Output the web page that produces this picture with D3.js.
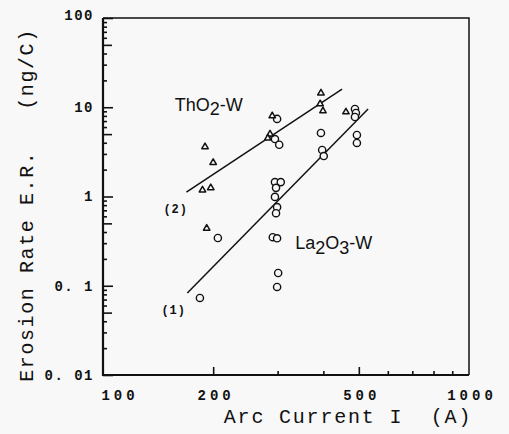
<!DOCTYPE html>
<html>
<head>
<meta charset="utf-8">
<script src="https://cdn.jsdelivr.net/npm/d3@7"></script>
<style>
  body { margin: 0; background: #f8f8f8; }
  svg { display: block; }
  .mono { font-family: 'Liberation Mono', 'DejaVu Sans Mono', monospace; fill: #111; }
  .sans { font-family: 'Liberation Sans', Arial, sans-serif; fill: #111; }
</style>
</head>
<body>
<div id="chart"></div>
<script>
// ThO2-W (triangles): arc current (A) and erosion rate (ng/C)
const triCurrent = [190, 200, 187, 197, 192, 290, 286, 282, 394, 392, 399, 461];
const triRate = [3.6, 2.4, 1.18, 1.25, 0.44, 8.0, 5.0, 4.5, 14.4, 10.9, 9.1, 8.85];

// La2O3-W (circles)
const circCurrent = [184, 206, 299, 295, 303, 295, 306, 297, 295, 299, 297, 291, 299, 301, 299,
  394, 397, 401, 488, 491, 488, 494, 494];
const circRate = [0.073, 0.343, 7.4, 4.4, 3.8, 1.45, 1.45, 1.25, 0.99, 0.76, 0.65, 0.35, 0.34, 0.139, 0.097,
  5.15, 3.32, 2.84, 9.56, 8.63, 7.78, 4.89, 3.98];

// Fitted lines, start and end points
const fitThCurrent = [169, 450];
const fitThRate = [1.12, 16.0];
const fitLaCurrent = [170, 530];
const fitLaRate = [0.083, 9.56];

// Axis ticks
const xLabelTicks = [100, 200, 500, 1000];
const xLabels = ['100', '200', '500', '1000'];
const xMinorTicks = [300, 400, 600, 700, 800, 900];
const yLabelTicks = [0.01, 0.1, 1, 10, 100];
const yLabels = ['0. 01', '0. 1', '1', '10', '100'];
const yMidTicks = [0.05, 0.5, 5, 50];
const yMinorTicks = [0.02, 0.03, 0.04, 0.06, 0.07, 0.08, 0.09,
  0.2, 0.3, 0.4, 0.6, 0.7, 0.8, 0.9,
  2, 3, 4, 6, 7, 8, 9,
  20, 30, 40, 60, 70, 80, 90];

const imageWidth = 509;
const imageHeight = 434;
const margin = { top: 18, right: 40, bottom: 59, left: 103 };
const width = imageWidth - margin.left - margin.right;
const height = imageHeight - margin.top - margin.bottom;

const x = d3.scaleLog().domain([100, 1000]).range([0, width]);
const y = d3.scaleLog().domain([0.01, 100]).range([height, 0]);

const svg = d3.select('#chart').append('svg')
  .attr('width', imageWidth)
  .attr('height', imageHeight)
  .append('g')
  .attr('transform', `translate(${margin.left},${margin.top})`);

// Frame: thin top and right, heavier left and bottom
svg.append('path')
  .attr('d', `M0,0H${width}V${height}`)
  .attr('fill', 'none')
  .attr('stroke', '#111')
  .attr('stroke-width', 1.5);

// Ticks point inward
function tickAxis(axis, values, size) {
  return axis.tickValues(values).tickSize(-size).tickFormat('');
}
const styleAxis = (g) => {
  g.select('.domain').remove();
  g.selectAll('.tick line').attr('stroke', '#111').attr('stroke-width', 1.6);
};

svg.append('g').call(tickAxis(d3.axisLeft(y), yMinorTicks, 4)).call(styleAxis);
svg.append('g').call(tickAxis(d3.axisLeft(y), yMidTicks, 9)).call(styleAxis);
svg.append('g').call(tickAxis(d3.axisLeft(y), yLabelTicks, 10)).call(styleAxis);

svg.append('g').attr('transform', `translate(0,${height})`)
  .call(tickAxis(d3.axisBottom(x), xMinorTicks, 4)).call(styleAxis);
svg.append('g').attr('transform', `translate(0,${height})`)
  .call(tickAxis(d3.axisBottom(x), [200, 500], 8)).call(styleAxis);

// Heavy left and bottom axis lines
svg.append('path')
  .attr('d', `M0,0V${height}H${width}`)
  .attr('fill', 'none')
  .attr('stroke', '#111')
  .attr('stroke-width', 2.2);

// Tick labels
svg.selectAll('.yLabel')
  .data(yLabelTicks)
  .join('text')
  .attr('class', 'mono')
  .attr('x', -9)
  .attr('y', (d, i) => y(d) - (i === yLabelTicks.length - 1 ? 3 : 0))
  .attr('dy', '0.35em')
  .attr('text-anchor', 'end')
  .style('font-size', '14px')
  .style('font-weight', 'bold')
  .style('letter-spacing', '1.5px')
  .style('white-space', 'pre')
  .text((d, i) => yLabels[i]);

svg.selectAll('.xLabel')
  .data(xLabelTicks)
  .join('text')
  .attr('class', 'mono')
  .attr('x', (d, i) => x(d) + (i === 0 ? 17 : 3))
  .attr('y', height + 25)
  .attr('text-anchor', 'middle')
  .style('font-size', '14px')
  .style('font-weight', 'bold')
  .style('letter-spacing', '4px')
  .text((d, i) => xLabels[i]);

// Axis titles
svg.append('text')
  .attr('class', 'mono')
  .attr('x', width / 2 + 62)
  .attr('y', height + 48)
  .attr('text-anchor', 'middle')
  .style('font-size', '20px')
  .style('letter-spacing', '1.8px')
  .style('white-space', 'pre')
  .text('Arc Current I  (A)');

svg.append('text')
  .attr('class', 'mono')
  .attr('transform', `translate(${33 - margin.left},${205 - margin.top}) rotate(-90)`)
  .attr('text-anchor', 'middle')
  .style('font-size', '20px')
  .style('letter-spacing', '1.6px')
  .style('white-space', 'pre')
  .text('Erosion Rate E.R.   (ng/C)');

// Fitted lines
const line = d3.line().x((d) => x(d[0])).y((d) => y(d[1]));
[[fitThCurrent, fitThRate], [fitLaCurrent, fitLaRate]].forEach(([cs, rs]) => {
  svg.append('path')
    .attr('d', line(d3.zip(cs, rs)))
    .attr('fill', 'none')
    .attr('stroke', '#111')
    .attr('stroke-width', 1.5);
});

// Markers, filled with the background so they break the lines
svg.selectAll('.circ')
  .data(d3.zip(circCurrent, circRate))
  .join('circle')
  .attr('cx', (d) => x(d[0]))
  .attr('cy', (d) => y(d[1]))
  .attr('r', 3.6)
  .attr('fill', '#f8f8f8')
  .attr('stroke', '#111')
  .attr('stroke-width', 1.4);

const tri = d3.symbol().type(d3.symbolTriangle).size(18);
svg.selectAll('.tri')
  .data(d3.zip(triCurrent, triRate))
  .join('path')
  .attr('d', tri)
  .attr('transform', (d) => `translate(${x(d[0])},${y(d[1])})`)
  .attr('fill', '#f8f8f8')
  .attr('stroke', '#111')
  .attr('stroke-width', 1.5)
  .attr('stroke-linejoin', 'round');

// Series labels
const thLabel = svg.append('text')
  .attr('class', 'sans')
  .attr('x', x(157))
  .attr('y', y(9.1))
  .style('font-size', '18px');
thLabel.append('tspan').text('ThO');
thLabel.append('tspan').attr('dy', 4).text('2');
thLabel.append('tspan').attr('dy', -4).text('-W');

const laLabel = svg.append('text')
  .attr('class', 'sans')
  .attr('x', x(335))
  .attr('y', y(0.26))
  .style('font-size', '18px');
laLabel.append('tspan').text('La');
laLabel.append('tspan').attr('dy', 5).text('2');
laLabel.append('tspan').attr('dy', -5).text('O');
laLabel.append('tspan').attr('dy', 5).text('3');
laLabel.append('tspan').attr('dy', -5).text('-W');

// Line numbers
svg.append('text')
  .attr('class', 'mono')
  .attr('x', x(158))
  .attr('y', y(0.72))
  .attr('dy', '0.35em')
  .attr('text-anchor', 'middle')
  .style('font-size', '12px')
  .style('font-weight', 'bold')
  .style('letter-spacing', '1px')
  .text('(2)');

svg.append('text')
  .attr('class', 'mono')
  .attr('x', x(156))
  .attr('y', y(0.0535))
  .attr('dy', '0.35em')
  .attr('text-anchor', 'middle')
  .style('font-size', '12px')
  .style('font-weight', 'bold')
  .style('letter-spacing', '1px')
  .text('(1)');
</script>
</body>
</html>
